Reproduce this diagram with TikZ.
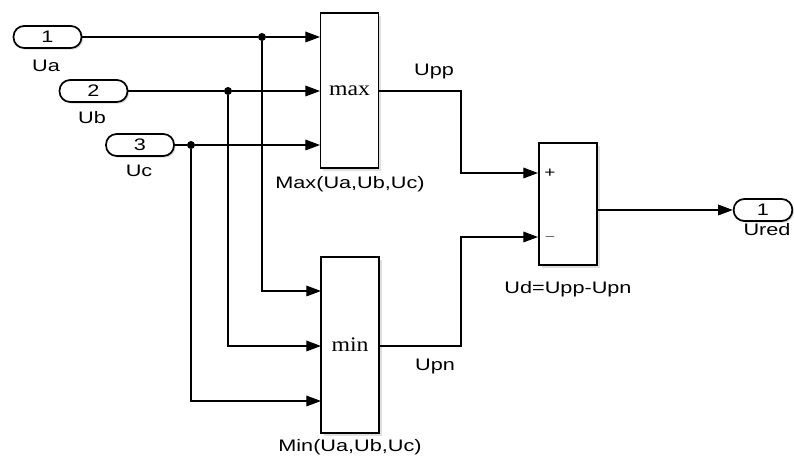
\documentclass[tikz,border=0pt]{standalone}
\usepackage{fontspec}
\setmainfont{Liberation Sans}[FakeStretch=1.3]
\newfontfamily\blkserif{Liberation Serif}[FakeStretch=1.15]
\usetikzlibrary{arrows.meta,shadows}
\begin{document}
\begin{tikzpicture}[x=0.75pt,y=-0.75pt,
  font=\fontsize{12.5}{14}\selectfont,
  sig/.style={line width=0.9pt,-{Triangle[length=11pt,width=8pt]}},
  wire/.style={line width=0.9pt},
  port/.style={draw,line width=1.3pt,rounded corners=8pt,minimum width=51pt,minimum height=16.5pt,inner sep=0pt,fill=white,
    drop shadow={shadow xshift=1.2pt,shadow yshift=-1.2pt,fill=black!30}},
  blk/.style={draw,line width=1.1pt,fill=white,inner sep=0pt,minimum width=43.5pt,
    drop shadow={shadow xshift=2pt,shadow yshift=-2pt,fill=black!25}},
  lbl/.style={inner sep=0pt},
  dot/.style={circle,fill=black,inner sep=0pt,minimum size=6pt}
]
\useasboundingbox (0,0) rectangle (794,459);
% inports
\node[port] (in1) at (47.5,37) {1};
\node[port] (in2) at (93.5,91) {2};
\node[port] (in3) at (140,145) {3};
\node[lbl] (la) at (46,66) {Ua};
\node[lbl] (lb) at (92,118) {Ub};
\node[lbl] (lc) at (139,171) {Uc};
% blocks
\node[blk,minimum height=116.25pt] (max) at (349.5,90.5) {\blkserif\fontsize{15.5}{16}\selectfont max};
\node[blk,minimum height=132pt] (min) at (350,345) {\blkserif\fontsize{15.5}{16}\selectfont min};
\node[blk,minimum height=91.5pt] (sum) at (568,204) {};
\node[port,minimum width=44pt] (out) at (763,210) {1};
% labels
\node[lbl] (lmax) at (350,184) {Max(Ua,Ub,Uc)};
\node[lbl] (lmin) at (350,447) {Min(Ua,Ub,Uc)};
\node[lbl] (lsum) at (568,289) {Ud=Upp-Upn};
\node[lbl] (lout) at (767,230) {Ured};
\node[lbl] (lupp) at (434,72) {Upp};
\node[lbl] (lupn) at (435,366) {Upn};
\node[lbl] (plus) at (550,173) {\fontsize{11}{12}\selectfont +};
\node[lbl] (minus) at (550,237) {\fontsize{11}{12}\selectfont $-$};
% junctions
\node[dot] (j1) at (262,37) {};
\node[dot] (j2) at (228,91) {};
\node[dot] (j3) at (191,145) {};
% ports coordinates
\coordinate (mx1) at (320,37);
\coordinate (mx2) at (320,91);
\coordinate (mx3) at (320,145);
\coordinate (mn1) at (321,291);
\coordinate (mn2) at (321,346);
\coordinate (mn3) at (321,401);
\coordinate (sp) at (538,173);
\coordinate (sm) at (538,237);
\coordinate (mxo) at (378,91);
\coordinate (mno) at (379,346);
\coordinate (so) at (597,210);
% wires
\draw[wire] (in1.east) -- (j1);
\draw[wire] (in2.east) -- (j2);
\draw[wire] (in3.east) -- (j3);
\draw[sig] (j1) -- (mx1);
\draw[sig] (j2) -- (mx2);
\draw[sig] (j3) -- (mx3);
\draw[sig] (j1) |- (mn1);
\draw[sig] (j2) |- (mn2);
\draw[sig] (j3) |- (mn3);
\draw[sig] (mxo) -- (461,91) |- (sp);
\draw[sig] (mno) -- (461,346) |- (sm);
\draw[sig] (so) -- (out.west);
\end{tikzpicture}
\end{document}
